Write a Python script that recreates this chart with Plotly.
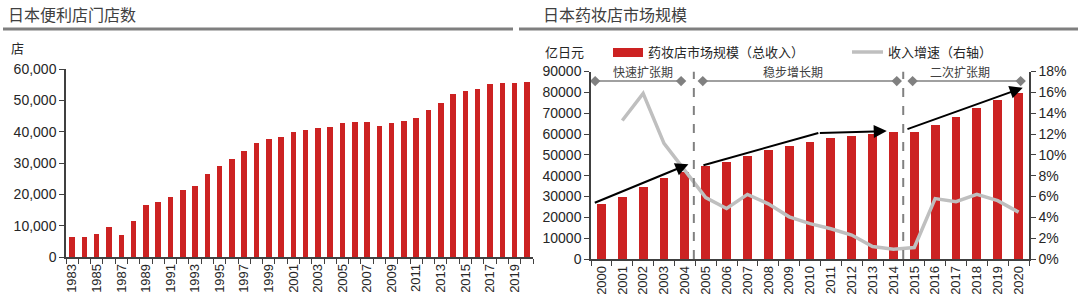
import plotly.graph_objects as go

# ---------------- data ----------------
store_years = list(range(1983, 2021))
store_counts = [6300, 6300, 7400, 9600, 7100, 11600, 16500, 17400, 19100, 21500,
                22800, 26500, 29000, 31400, 33900, 36300, 37600, 38200, 39800, 40600,
                41100, 41400, 42700, 43100, 43100, 41700, 42700, 43400, 44400, 46900,
                49300, 52000, 52900, 53600, 55200, 55600, 55500, 55900]
store_tick_labels = [str(y) for y in range(1983, 2020, 2)]

drug_years = list(range(2000, 2021))
drug_market = [26600, 30100, 34900, 38900, 42100, 44700, 47000, 49600, 52400, 54500,
               56600, 58200, 59500, 60100, 61100, 61300, 64800, 68500, 72600, 76600, 80100]
drug_growth = [None, 13.3, 15.9, 11.1, 8.5, 5.9, 4.85, 6.2, 5.3, 4.05,
               3.4, 2.9, 2.3, 1.2, 0.93, 1.1, 5.8, 5.5, 6.2, 5.6, 4.5]
drug_tick_labels = [str(y) for y in drug_years]

phase_names = ["快速扩张期", "稳步增长期", "二次扩张期"]
phase_spans = [(1999.7, 2003.82), (2004.86, 2014.16), (2014.92, 2020.1)]
phase_label_x = [2002.0, 2009.2, 2017.2]
phase_dividers = [2004.43, 2014.47]

left_title = "日本便利店门店数"
right_title = "日本药妆店市场规模"
left_unit = "店"
right_unit = "亿日元"
bar_name = "药妆店市场规模（总收入）"
line_name = "收入增速（右轴）"

# ---------------- style ----------------
W, H = 1080, 307
RED = "#CC2222"
GREY_LINE = "#BFBFBF"
AX = "#404040"
TXT = "#262626"
FONT = "Liberation Sans, Arial, Noto Sans CJK SC"
CJK = "Noto Sans CJK SC"

def px_x(p):
    return p / W

def px_y(p):
    return 1 - p / H

fig = go.Figure()

# left chart bars
fig.add_trace(go.Bar(x=store_years, y=store_counts, width=0.45,
                     marker=dict(color=RED, line=dict(width=0)),
                     xaxis="x", yaxis="y", showlegend=False))

# right chart bars
fig.add_trace(go.Bar(x=drug_years, y=drug_market, width=0.42,
                     marker=dict(color=RED, line=dict(width=0)),
                     xaxis="x2", yaxis="y2", showlegend=False))

# growth line on right axis
fig.add_trace(go.Scatter(x=drug_years, y=drug_growth, mode="lines",
                         line=dict(color=GREY_LINE, width=3.5),
                         xaxis="x2", yaxis="y3", showlegend=False,
                         connectgaps=False))

# phase span lines with diamonds
for (a, b) in phase_spans:
    fig.add_trace(go.Scatter(x=[a, b], y=[85400, 85400], mode="lines+markers",
                             line=dict(color="#808080", width=1.5),
                             marker=dict(symbol="diamond", size=8, color="#808080"),
                             xaxis="x2", yaxis="y2", showlegend=False,
                             cliponaxis=False))

# black trend segment (bent arrow, first part)
fig.add_trace(go.Scatter(x=[2004.89, 2010.4], y=[45000, 60500], mode="lines",
                         line=dict(color="black", width=2),
                         xaxis="x2", yaxis="y2", showlegend=False))

annotations = []
shapes = []

# arrows
for (tx, ty, hx, hy) in [(1999.61, 26700, 2004.17, 45500),
                         (2010.4, 60500, 2013.68, 61400),
                         (2014.6, 62100, 2020.2, 82200)]:
    annotations.append(dict(x=hx, y=hy, ax=tx, ay=ty, xref="x2", yref="y2",
                            axref="x2", ayref="y2", showarrow=True, text="",
                            arrowhead=2, arrowsize=1.3, arrowwidth=2,
                            arrowcolor="black", standoff=0, startstandoff=0))

# phase labels
for name, lx in zip(phase_names, phase_label_x):
    annotations.append(dict(x=lx, y=89800, xref="x2", yref="y2", text=name,
                            showarrow=False, font=dict(family=CJK, size=12, color=AX),
                            yanchor="middle"))

# dividers
for dx in phase_dividers:
    shapes.append(dict(type="line", xref="x2", yref="y2", x0=dx, x1=dx, y0=0, y1=90000,
                       line=dict(color="#808080", width=2, dash="dash"), layer="above"))

# title rules
shapes.append(dict(type="line", xref="paper", yref="paper", x0=px_x(3), x1=px_x(513),
                   y0=px_y(29), y1=px_y(29), line=dict(color="#7F7F7F", width=3)))
shapes.append(dict(type="line", xref="paper", yref="paper", x0=px_x(519), x1=px_x(1078),
                   y0=px_y(29), y1=px_y(29), line=dict(color="#7F7F7F", width=3)))

# titles
annotations.append(dict(x=px_x(6), y=px_y(14), xref="paper", yref="paper", text=left_title,
                        showarrow=False, xanchor="left", yanchor="middle",
                        font=dict(family=CJK, size=16, color="#404040")))
annotations.append(dict(x=px_x(541), y=px_y(14), xref="paper", yref="paper", text=right_title,
                        showarrow=False, xanchor="left", yanchor="middle",
                        font=dict(family=CJK, size=16, color="#404040")))

# units
annotations.append(dict(x=px_x(9), y=px_y(48), xref="paper", yref="paper", text=left_unit,
                        showarrow=False, xanchor="left", yanchor="middle",
                        font=dict(family=CJK, size=13, color=TXT)))
annotations.append(dict(x=px_x(543), y=px_y(52), xref="paper", yref="paper", text=right_unit,
                        showarrow=False, xanchor="left", yanchor="middle",
                        font=dict(family=CJK, size=13, color=TXT)))

# manual legend
shapes.append(dict(type="rect", xref="paper", yref="paper", x0=px_x(613), x1=px_x(643),
                   y0=px_y(57), y1=px_y(48), fillcolor=RED, line=dict(width=0)))
annotations.append(dict(x=px_x(646), y=px_y(52), xref="paper", yref="paper", text=bar_name,
                        showarrow=False, xanchor="left", yanchor="middle",
                        font=dict(family=CJK, size=13, color=TXT)))
shapes.append(dict(type="line", xref="paper", yref="paper", x0=px_x(852), x1=px_x(883),
                   y0=px_y(52), y1=px_y(52), line=dict(color=GREY_LINE, width=3.5)))
annotations.append(dict(x=px_x(886), y=px_y(52), xref="paper", yref="paper", text=line_name,
                        showarrow=False, xanchor="left", yanchor="middle",
                        font=dict(family=CJK, size=13, color=TXT)))

axis_common = dict(showgrid=False, zeroline=False, showline=True, linecolor=AX,
                   linewidth=1.5, automargin=False,
                   tickfont=dict(family=FONT, size=14, color=TXT))

fig.update_layout(
    width=W, height=H, margin=dict(l=0, r=0, t=0, b=0, pad=0),
    paper_bgcolor="white", plot_bgcolor="white",
    bargap=0, showlegend=False,
    font=dict(family=FONT, color=TXT),
    xaxis=dict(domain=[px_x(66), px_x(533)], range=[1982.5, 2020.5],
               tickmode="array", tickvals=[int(t) for t in store_tick_labels],
               ticktext=store_tick_labels, tickangle=-90, ticks="",
               minor=dict(tickmode="linear", tick0=1982.5, dtick=1, ticks="outside",
                          ticklen=5, tickcolor=AX, tickwidth=1.2),
               anchor="y", showgrid=False, zeroline=False, showline=True,
               linecolor=AX, linewidth=1.5, automargin=False,
               tickfont=dict(family=FONT, size=13, color=TXT)),
    yaxis=dict(domain=[px_y(257), px_y(69)], range=[0, 60000], dtick=10000,
               tickformat=",", ticks="outside", ticklen=5, tickcolor=AX,
               anchor="x", **axis_common),
    xaxis2=dict(domain=[px_x(591), px_x(1029)], range=[1999.5, 2020.5],
                tickmode="array", tickvals=drug_years, ticktext=drug_tick_labels,
                tickangle=-90, ticks="",
                minor=dict(tickmode="linear", tick0=1999.5, dtick=1, ticks="outside",
                           ticklen=5, tickcolor=AX, tickwidth=1.2),
                anchor="y2", showgrid=False, zeroline=False, showline=True,
                linecolor=AX, linewidth=1.5, automargin=False,
                tickfont=dict(family=FONT, size=13, color=TXT)),
    yaxis2=dict(domain=[px_y(259), px_y(71.5)], range=[0, 90000], dtick=10000,
                tickformat="d", ticks="outside", ticklen=5, tickcolor=AX,
                anchor="x2", **axis_common),
    yaxis3=dict(range=[0, 18], dtick=2, ticksuffix="%", side="right",
                overlaying="y2", anchor="x2", ticks="outside", ticklen=5,
                tickcolor=AX, **axis_common),
    annotations=annotations, shapes=shapes,
)

fig.write_html("out.html")
